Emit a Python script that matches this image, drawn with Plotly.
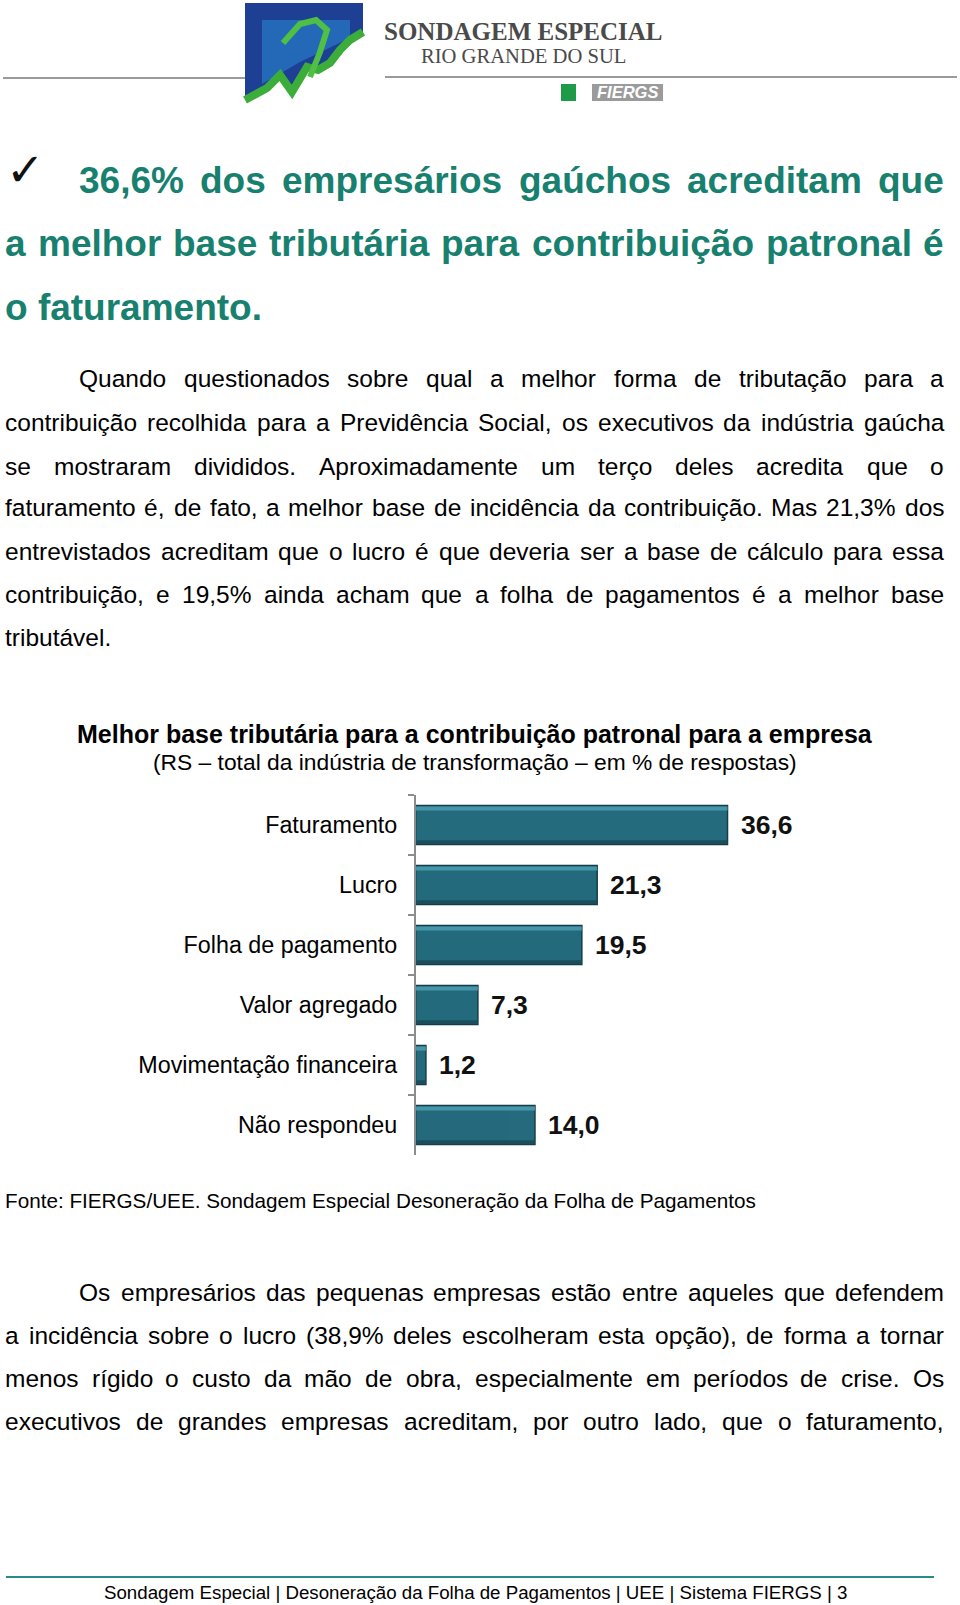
import unicodedata
import plotly.graph_objects as go

# ---------------- data ----------------
categories = ["Faturamento", "Lucro", "Folha de pagamento", "Valor agregado",
              "Movimentação financeira", "Não respondeu"]
values = [36.6, 21.3, 19.5, 7.3, 1.2, 14.0]
value_labels = [f"{v:.1f}".replace(".", ",") for v in values]

chart_title = "Melhor base tributária para a contribuição patronal para a empresa"
chart_subtitle = "(RS – total da indústria de transformação – em % de respostas)"
source_text = "Fonte: FIERGS/UEE. Sondagem Especial Desoneração da Folha de Pagamentos"

headline = ["36,6% dos empresários gaúchos acreditam que",
            "a melhor base tributária para contribuição patronal é",
            "o faturamento."]
para1 = ["Quando questionados sobre qual a melhor forma de tributação para a",
         "contribuição recolhida para a Previdência Social, os executivos da indústria gaúcha",
         "se mostraram divididos. Aproximadamente um terço deles acredita que o",
         "faturamento é, de fato, a melhor base de incidência da contribuição. Mas 21,3% dos",
         "entrevistados acreditam que o lucro é que deveria ser a base de cálculo para essa",
         "contribuição, e 19,5% ainda acham que a folha de pagamentos é a melhor base",
         "tributável."]
para2 = ["Os empresários das pequenas empresas estão entre aqueles que defendem",
         "a incidência sobre o lucro (38,9% deles escolheram esta opção), de forma a tornar",
         "menos rígido o custo da mão de obra, especialmente em períodos de crise. Os",
         "executivos de grandes empresas acreditam, por outro lado, que o faturamento,"]
footer_text = "Sondagem Especial | Desoneração da Folha de Pagamentos | UEE | Sistema FIERGS | 3"

W, H = 960, 1605
def px(x): return x / W
def py(y): return 1 - y / H

FONT = "Liberation Sans, Arial, sans-serif"
TEAL = "#17806f"

# Helvetica/Arial advance widths (1/1000 em) used to justify paragraph lines
REG = dict(zip(" ,.%()-:/0123456789", [278, 278, 278, 889, 333, 333, 333, 278, 278] + [556] * 10))
REG.update(dict(zip("abcdefghijklmnopqrstuvwxyz",
                    [556, 556, 500, 556, 556, 278, 556, 556, 222, 222, 500, 222, 833,
                     556, 556, 556, 556, 333, 500, 278, 556, 500, 722, 500, 500, 500])))
REG.update(dict(zip("ABCDEFGHIJKLMNOPQRSTUVWXYZ",
                    [667, 667, 722, 722, 667, 611, 778, 722, 278, 500, 667, 556, 833,
                     722, 778, 667, 778, 722, 667, 611, 722, 667, 944, 667, 667, 611])))
BLD = dict(zip(" ,.%()-:/0123456789", [278, 278, 278, 889, 333, 333, 333, 278, 278] + [556] * 10))
BLD.update(dict(zip("abcdefghijklmnopqrstuvwxyz",
                    [556, 611, 556, 611, 556, 333, 611, 611, 278, 278, 556, 278, 889,
                     611, 611, 611, 611, 389, 556, 333, 611, 556, 778, 556, 556, 500])))

def tw(s, size, bold=False):
    table = BLD if bold else REG
    tot = 0
    for ch in s:
        base = unicodedata.normalize("NFD", ch)[0]
        tot += table.get(base, 556)
    return tot / 1000 * size

fig = go.Figure()
# main bar body
fig.add_trace(go.Bar(
    x=values, y=categories, orientation="h", width=0.65,
    marker=dict(color="#256b7d", line=dict(color="#163f4b", width=1.5)),
    hoverinfo="skip", showlegend=False,
))
# bevel: light strip along the top edge, dark strip along the bottom edge
fig.add_trace(go.Bar(
    x=values, y=categories, orientation="h", width=0.07, offset=-0.31,
    marker=dict(color="#4d9db1", line=dict(width=0)), opacity=0.85,
    hoverinfo="skip", showlegend=False,
))
fig.add_trace(go.Bar(
    x=values, y=categories, orientation="h", width=0.06, offset=0.255,
    marker=dict(color="#1b4c59", line=dict(width=0)), opacity=0.9,
    hoverinfo="skip", showlegend=False,
))

annotations = []
for v, c, t in zip(values, categories, value_labels):
    annotations.append(dict(x=v, y=c, xref="x", yref="y", text=t, showarrow=False,
                            xanchor="left", yanchor="middle", xshift=13,
                            borderpad=0, borderwidth=0,
                            font=dict(family=FONT, size=26.5, color="#111111", weight="bold")))

def txt(x, y, s, size, color="#000000", bold=False, anchor="left", family=FONT, italic=False):
    annotations.append(dict(x=px(x), y=py(y), xref="paper", yref="paper", text=s,
                            showarrow=False, xanchor=anchor, yanchor="middle",
                            borderpad=0, borderwidth=0,
                            font=dict(family=family, size=size, color=color,
                                      weight="bold" if bold else "normal",
                                      style="italic" if italic else "normal")))

def justified(x0, x1, y, line, size, color="#000000", bold=False, justify=True):
    words = line.split(" ")
    if not justify or len(words) < 2:
        txt(x0, y, line, size, color, bold)
        return
    widths = [tw(w, size, bold) for w in words]
    gap = (x1 - x0 - sum(widths)) / (len(words) - 1)
    gap = max(gap, tw(" ", size, bold))
    x = x0
    for w, wd in zip(words, widths):
        txt(x, y, w, size, color, bold)
        x += wd + gap

RIGHT = 944

# header
txt(384, 31, "SONDAGEM ESPECIAL", 25, "#4a4a4a", True, family="Liberation Serif, serif")
txt(421, 56, "RIO GRANDE DO SUL", 20.6, "#4a4a4a", False, family="Liberation Serif, serif")
txt(627, 92, "FIERGS", 16.5, "#ffffff", True, anchor="center", italic=True)

# headline
txt(6, 170, "✓", 46, "#111111", family="DejaVu Sans")
hl_y = [180, 244, 307]
for i, (s, y) in enumerate(zip(headline, hl_y)):
    justified(79 if i == 0 else 5, RIGHT, y, s, 37, TEAL, True, justify=(i < len(headline) - 1))

p1_y = [379, 422, 466, 508, 551, 594, 637]
for i, (s, y) in enumerate(zip(para1, p1_y)):
    justified(79 if i == 0 else 5, RIGHT, y, s, 24.5, justify=(i < len(para1) - 1))

txt(475, 734, chart_title, 25, "#000000", True, anchor="center")
txt(475, 762, chart_subtitle, 22.8, "#000000", anchor="center")
txt(5, 1200, source_text, 20.7)

p2_y = [1292, 1335, 1378, 1421]
for i, (s, y) in enumerate(zip(para2, p2_y)):
    justified(79 if i == 0 else 5, RIGHT, y, s, 24.5, justify=True)

txt(475, 1592, footer_text, 18.7, anchor="center")

def P(pts):
    return "M " + " L ".join(f"{px(x):.5f},{py(y):.5f}" for x, y in pts)

zig = [(245, 100), (267, 88), (280, 75), (292, 92), (307, 67), (318, 70),
       (330, 63), (340, 50), (350, 40), (363, 32)]
blue_poly = [(245, 3), (363, 3)] + zig[::-1]
shapes = [
    dict(type="path", xref="paper", yref="paper", path=P(blue_poly) + " Z",
         fillcolor="#1d3f94", line=dict(width=0), layer="below"),
    dict(type="path", xref="paper", yref="paper",
         path=P([(262, 20), (350, 20), (350, 38), (300, 62), (262, 84)]) + " Z",
         fillcolor="#2a86d0", opacity=0.6, line=dict(width=0), layer="below"),
    dict(type="path", xref="paper", yref="paper", path=P(zig),
         line=dict(color="#3cad3a", width=8)),
    dict(type="path", xref="paper", yref="paper",
         path=P([(283, 43), (300, 24), (316, 20), (327, 30), (320, 52), (310, 77)]),
         line=dict(color="#4fbf45", width=6)),
    dict(type="line", xref="paper", yref="paper", x0=px(3), x1=px(245), y0=py(78), y1=py(78),
         line=dict(color="#9a9a9a", width=2)),
    dict(type="line", xref="paper", yref="paper", x0=px(385), x1=px(957), y0=py(77), y1=py(77),
         line=dict(color="#9a9a9a", width=2)),
    dict(type="rect", xref="paper", yref="paper", x0=px(561), x1=px(576), y0=py(101), y1=py(84),
         fillcolor="#1e9b48", line=dict(width=0), layer="below"),
    dict(type="rect", xref="paper", yref="paper", x0=px(592), x1=px(663), y0=py(101), y1=py(84),
         fillcolor="#9b9b9b", line=dict(width=0), layer="below"),
    dict(type="line", xref="paper", yref="paper", x0=px(6), x1=px(934), y0=py(1577), y1=py(1577),
         line=dict(color="#2a8a88", width=2)),
]

fig.update_layout(
    width=W, height=H, margin=dict(l=0, r=0, t=0, b=0),
    paper_bgcolor="white", plot_bgcolor="white", barmode="overlay",
    xaxis=dict(domain=[px(415.7), px(415.7 + 50 * 8.52)], range=[0, 50], visible=False,
               showgrid=False, zeroline=False),
    yaxis=dict(domain=[py(1155), py(795)], categoryorder="array", categoryarray=categories,
               autorange="reversed", showline=True, linecolor="#8c8c8c", linewidth=1.5,
               ticks="outside", tickson="boundaries", ticklen=6, tickcolor="#8c8c8c",
               tickwidth=1.5, ticklabelstandoff=12, showgrid=False,
               tickfont=dict(family=FONT, size=23.3, color="#000000")),
    annotations=annotations, shapes=shapes,
)

fig.write_html("out.html", config={"displayModeBar": False},
               post_script="document.body.style.margin='0px';document.body.style.overflow='hidden';")
